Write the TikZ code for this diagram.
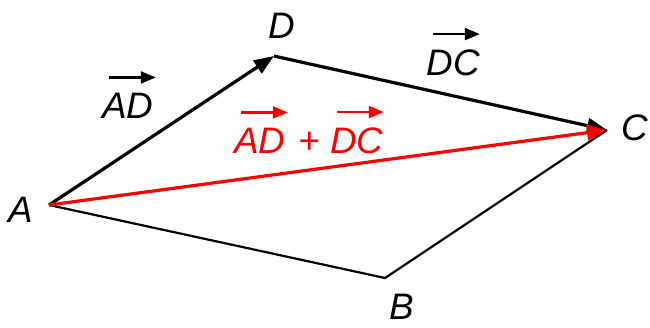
\documentclass[tikz,border=0pt]{standalone}
\usepackage{fontspec}
\setmainfont{Liberation Sans}
\usetikzlibrary{arrows.meta, positioning, calc}
\begin{document}
\begin{tikzpicture}[x=1bp, y=-1bp,
  ptlabel/.style={font=\fontsize{37}{40}\selectfont\itshape, inner sep=0pt, anchor=base},
  veclabel/.style={font=\fontsize{37}{40}\selectfont\itshape, inner sep=0pt, anchor=base},
  vecside/.style={-{Triangle[length=20bp,width=15bp]}, line width=3.2bp},
  thinside/.style={line width=2.2bp, line join=miter},
  overarrow/.style={-{Triangle[length=15bp,width=12bp]}, line width=2.2bp},
]
\useasboundingbox (0,0) rectangle (650,327);
% Vertices of the parallelogram
\coordinate (A) at (49,205);
\coordinate (D) at (274,56);
\coordinate (C) at (607,130);
\coordinate (B) at (385,278);

% Sides
\draw[thinside] (A) -- (B) -- (C);
\draw[vecside] (A) -- (D);
\draw[vecside] (D) -- (C);
\draw[vecside, red] (A) -- (C);

% Vertex labels
\node[ptlabel] (lblA) at (21,222) {A};
\node[ptlabel] (lblD) at (282,38) {D};
\node[ptlabel] (lblC) at (635,140) {C};
\node[ptlabel] (lblB) at (402,319) {B};

% Vector labels
\node[veclabel] (vAD) at (128,118) {AD};
\node[veclabel] (vDC) at (453,75) {DC};
\draw[overarrow] ([xshift=7bp, yshift=15bp]vAD.north west) -- ([xshift=2bp, yshift=15bp]vAD.north east);
\draw[overarrow] ([xshift=7bp, yshift=15bp]vDC.north west) -- ([yshift=15bp]vDC.north east);

% Sum label
\node[veclabel, red] (sAD) at (260,153) {AD};
\node[veclabel, red] (splus) at (309,153) {+};
\node[veclabel, red] (sDC) at (357,153) {DC};
\draw[overarrow, red] ([xshift=7bp, yshift=15bp]sAD.north west) -- ([xshift=2bp, yshift=15bp]sAD.north east);
\draw[overarrow, red] ([xshift=7bp, yshift=15bp]sDC.north west) -- ([yshift=15bp]sDC.north east);
\end{tikzpicture}
\end{document}
